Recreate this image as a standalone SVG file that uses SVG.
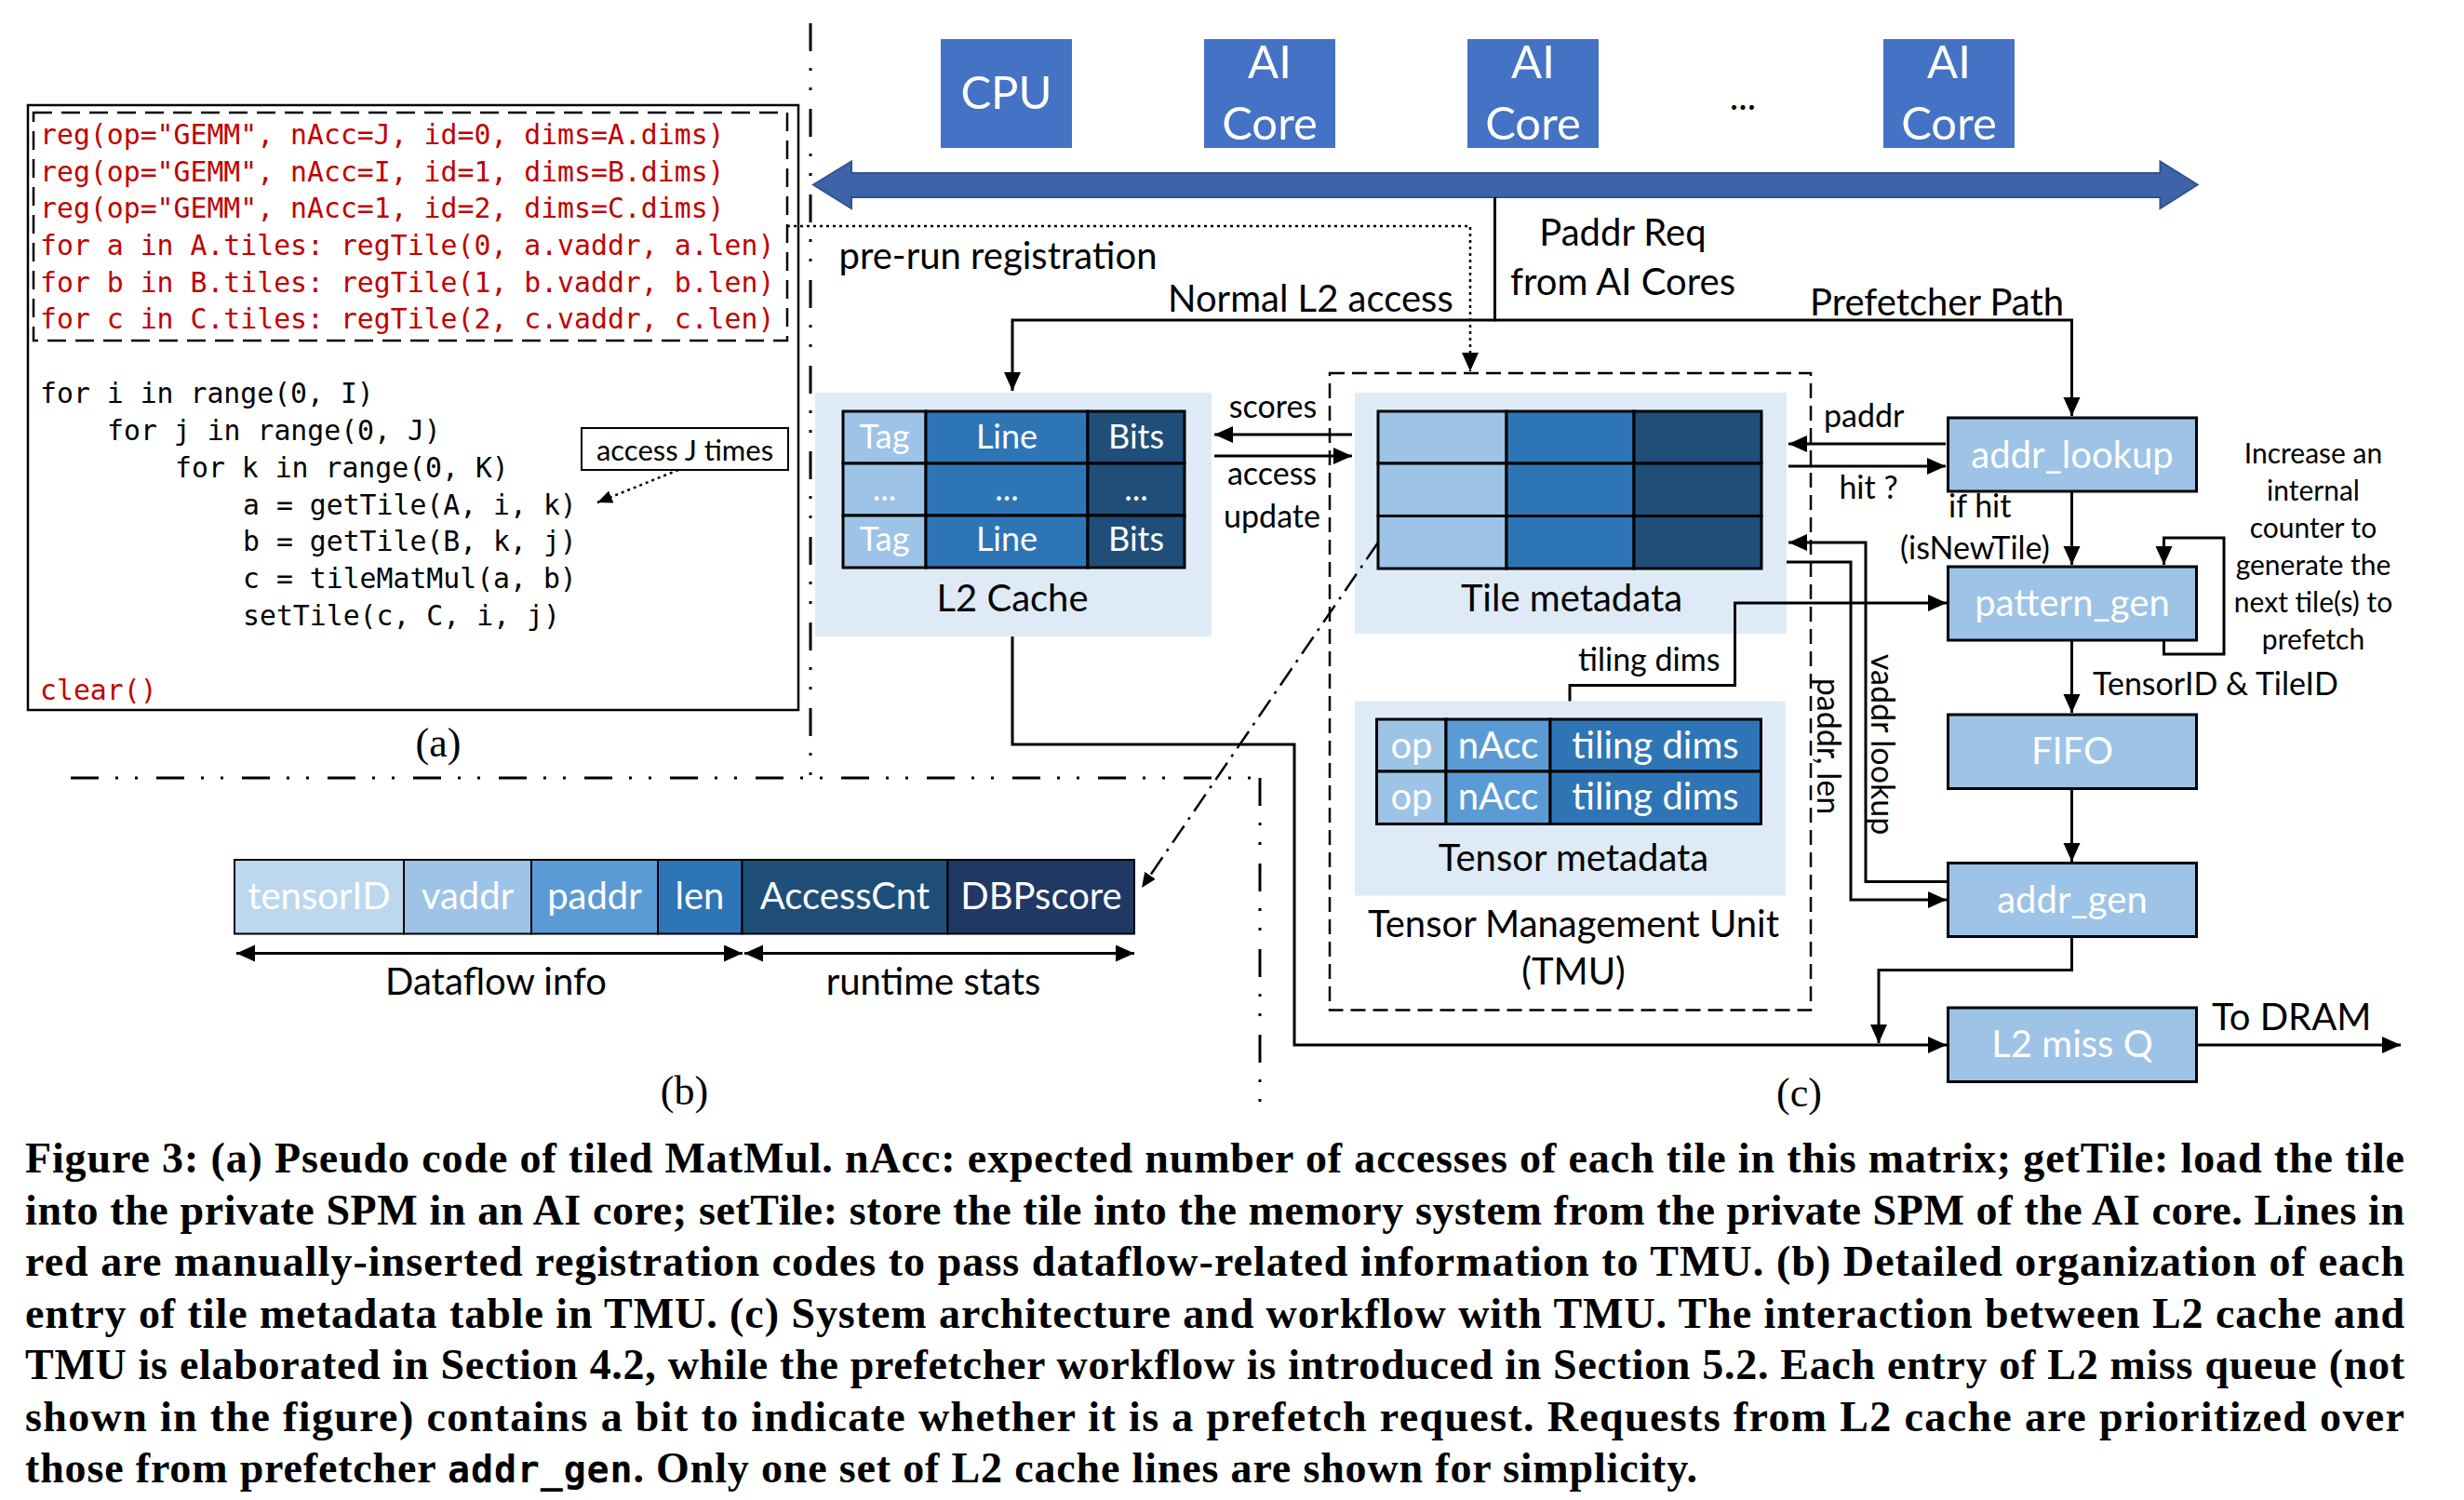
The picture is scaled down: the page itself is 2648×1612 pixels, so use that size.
<svg xmlns="http://www.w3.org/2000/svg" width="2648" height="1612" viewBox="0 0 2648 1612">
<defs>
<style>
.lbl{font-family:Lato,"Liberation Sans",sans-serif;font-size:40px;fill:#000}
.sm{font-size:34px}
.xs{font-size:30px}
.big{font-size:49px}
.wt{fill:#fff}
.mid{text-anchor:middle}
.code{font-family:"DejaVu Sans Mono","Liberation Mono",monospace;font-size:29.8px;fill:#000}
.red{fill:#C00000}
.cap{font-family:"Liberation Serif","Times New Roman",serif;font-weight:bold;font-size:46px;fill:#000}
.mono{font-family:"DejaVu Sans Mono",monospace;font-weight:bold}
.ln{fill:none;stroke:#000;stroke-width:3}
.dot{fill:none;stroke:#000;stroke-width:2.5;stroke-dasharray:3 4}
.dd{fill:none;stroke:#000;stroke-width:2.5;stroke-dasharray:22 8 3 8}
.sep{fill:none;stroke:#000;stroke-width:3;stroke-dasharray:30 18 3 18 3 20}
.panel{fill:#DEEBF7}
.cell{stroke:#000;stroke-width:3}
.box{fill:#9DC3E6;stroke:#000;stroke-width:3}
.core{fill:#4472C4}
</style>
<marker id="ah" markerUnits="userSpaceOnUse" markerWidth="22" markerHeight="20" refX="20" refY="9" orient="auto-start-reverse">
<path d="M0,0 L20,9 L0,18 z" fill="#000"/>
</marker>
<marker id="ahs" markerUnits="userSpaceOnUse" markerWidth="18" markerHeight="16" refX="16" refY="7" orient="auto">
<path d="M0,0 L16,7 L0,14 z" fill="#000"/>
</marker>
</defs>
<rect width="2648" height="1612" fill="#fff"/>

<!-- separators -->
<g id="separators">
<path class="sep" d="M871,25 V836"/>
<path class="sep" d="M76,836 H1352"/>
<path class="sep" d="M1354,836 V1190"/>
</g>

<!-- (a) code panel -->
<g id="code-panel">
<rect x="30" y="113" width="828" height="650" fill="#fff" stroke="#000" stroke-width="2.5"/>
<rect x="36" y="121" width="810" height="245" fill="none" stroke="#000" stroke-width="2.5" stroke-dasharray="20 10"/>
<text class="code red" x="43" y="155">reg(op="GEMM", nAcc=J, id=0, dims=A.dims)</text>
<text class="code red" x="43" y="195">reg(op="GEMM", nAcc=I, id=1, dims=B.dims)</text>
<text class="code red" x="43" y="234">reg(op="GEMM", nAcc=1, id=2, dims=C.dims)</text>
<text class="code red" x="43" y="274">for a in A.tiles: regTile(0, a.vaddr, a.len)</text>
<text class="code red" x="43" y="314">for b in B.tiles: regTile(1, b.vaddr, b.len)</text>
<text class="code red" x="43" y="353">for c in C.tiles: regTile(2, c.vaddr, c.len)</text>
<text class="code" x="43" y="433">for i in range(0, I)</text>
<text class="code" x="115" y="473">for j in range(0, J)</text>
<text class="code" x="188" y="513">for k in range(0, K)</text>
<text class="code" x="261" y="553">a = getTile(A, i, k)</text>
<text class="code" x="261" y="592">b = getTile(B, k, j)</text>
<text class="code" x="261" y="632">c = tileMatMul(a, b)</text>
<text class="code" x="261" y="672">setTile(c, C, i, j)</text>
<text class="code red" x="43" y="752">clear()</text>
</g>
<g id="access-note">
<rect x="625" y="460" width="222" height="45" fill="#fff" stroke="#000" stroke-width="2"/>
<text class="lbl mid" x="736" y="495" style="font-size:31px">access J times</text>
</g>
<text x="471" y="813" text-anchor="middle" font-family="Liberation Serif, serif" font-size="44">(a)</text>

<!-- top: processors and bus -->
<g id="cpu"><rect class="core" x="1011" y="42" width="141" height="117"/><text class="lbl big wt mid" x="1081.5" y="117">CPU</text></g>
<g id="ai-core-1"><rect class="core" x="1294" y="42" width="141" height="117"/><text class="lbl big wt mid" x="1364.5" y="84">AI</text><text class="lbl big wt mid" x="1364.5" y="150">Core</text></g>
<g id="ai-core-2"><rect class="core" x="1577" y="42" width="141" height="117"/><text class="lbl big wt mid" x="1647.5" y="84">AI</text><text class="lbl big wt mid" x="1647.5" y="150">Core</text></g>
<text class="lbl mid" x="1873" y="118">...</text>
<g id="ai-core-3"><rect class="core" x="2024" y="42" width="141" height="117"/><text class="lbl big wt mid" x="2094.5" y="84">AI</text><text class="lbl big wt mid" x="2094.5" y="150">Core</text></g>
<g id="bus">
<polygon points="874,198.5 915,173.5 915,186 2321.5,186 2321.5,173.5 2361.6,198.5 2321.5,224 2321.5,212 915,212 915,224" fill="#3E63A9" stroke="#2F528F" stroke-width="2"/>
</g>

<!-- L2 cache -->
<g id="l2-cache">
<rect class="panel" x="876" y="422" width="426" height="262"/>
<rect class="cell" x="906" y="442" width="89" height="56" fill="#9DC3E6"/>
<rect class="cell" x="995" y="442" width="174" height="56" fill="#2E75B6"/>
<rect class="cell" x="1169" y="442" width="104" height="56" fill="#1F4E79"/>
<rect class="cell" x="906" y="498" width="89" height="56" fill="#9DC3E6"/>
<rect class="cell" x="995" y="498" width="174" height="56" fill="#2E75B6"/>
<rect class="cell" x="1169" y="498" width="104" height="56" fill="#1F4E79"/>
<rect class="cell" x="906" y="554" width="89" height="56" fill="#9DC3E6"/>
<rect class="cell" x="995" y="554" width="174" height="56" fill="#2E75B6"/>
<rect class="cell" x="1169" y="554" width="104" height="56" fill="#1F4E79"/>
<text class="lbl wt mid" x="950.5" y="482" style="font-size:36px">Tag</text>
<text class="lbl wt mid" x="1082" y="482" style="font-size:36px">Line</text>
<text class="lbl wt mid" x="1221" y="482" style="font-size:36px">Bits</text>
<text class="lbl wt mid" x="950.5" y="538" style="font-size:36px">...</text>
<text class="lbl wt mid" x="1082" y="538" style="font-size:36px">...</text>
<text class="lbl wt mid" x="1221" y="538" style="font-size:36px">...</text>
<text class="lbl wt mid" x="950.5" y="592" style="font-size:36px">Tag</text>
<text class="lbl wt mid" x="1082" y="592" style="font-size:36px">Line</text>
<text class="lbl wt mid" x="1221" y="592" style="font-size:36px">Bits</text>
<text class="lbl mid" x="1088" y="657">L2 Cache</text>
</g>

<!-- TMU -->
<g id="tmu">
<rect x="1429" y="401" width="517" height="684.5" fill="none" stroke="#000" stroke-width="2.5" stroke-dasharray="16 8"/>
<text class="lbl mid" x="1691" y="1007">Tensor Management Unit</text>
<text class="lbl mid" x="1691" y="1058">(TMU)</text>
</g>
<g id="tile-metadata">
<rect class="panel" x="1456" y="422" width="464" height="259"/>
<rect class="cell" x="1481" y="442" width="138" height="56" fill="#9DC3E6"/>
<rect class="cell" x="1619" y="442" width="137" height="56" fill="#2E75B6"/>
<rect class="cell" x="1756" y="442" width="137" height="56" fill="#1F4E79"/>
<rect class="cell" x="1481" y="498" width="138" height="56.5" fill="#9DC3E6"/>
<rect class="cell" x="1619" y="498" width="137" height="56.5" fill="#2E75B6"/>
<rect class="cell" x="1756" y="498" width="137" height="56.5" fill="#1F4E79"/>
<rect class="cell" x="1481" y="554.5" width="138" height="56.5" fill="#9DC3E6"/>
<rect class="cell" x="1619" y="554.5" width="137" height="56.5" fill="#2E75B6"/>
<rect class="cell" x="1756" y="554.5" width="137" height="56.5" fill="#1F4E79"/>
<text class="lbl mid" x="1689" y="657">Tile metadata</text>
</g>
<g id="tensor-metadata">
<rect class="panel" x="1456" y="753.5" width="463" height="209"/>
<rect class="cell" x="1479.5" y="773" width="74.5" height="56" fill="#9DC3E6"/>
<rect class="cell" x="1554" y="773" width="112" height="56" fill="#5B9BD5"/>
<rect class="cell" x="1666" y="773" width="226.5" height="56" fill="#2E75B6"/>
<rect class="cell" x="1479.5" y="829" width="74.5" height="56.5" fill="#9DC3E6"/>
<rect class="cell" x="1554" y="829" width="112" height="56.5" fill="#5B9BD5"/>
<rect class="cell" x="1666" y="829" width="226.5" height="56.5" fill="#2E75B6"/>
<text class="lbl wt mid" x="1517" y="815">op</text>
<text class="lbl wt mid" x="1610" y="815">nAcc</text>
<text class="lbl wt mid" x="1779" y="815">tiling dims</text>
<text class="lbl wt mid" x="1517" y="870">op</text>
<text class="lbl wt mid" x="1610" y="870">nAcc</text>
<text class="lbl wt mid" x="1779" y="870">tiling dims</text>
<text class="lbl mid" x="1691" y="936">Tensor metadata</text>
</g>

<!-- prefetcher -->
<g id="addr-lookup"><rect class="box" x="2093.5" y="449" width="267" height="79"/><text class="lbl wt mid" x="2227" y="503">addr_lookup</text></g>
<g id="pattern-gen"><rect class="box" x="2093.5" y="609" width="267" height="79"/><text class="lbl wt mid" x="2227" y="662">pattern_gen</text></g>
<g id="fifo"><rect class="box" x="2093.5" y="768" width="267" height="79.5"/><text class="lbl wt mid" x="2227" y="821">FIFO</text></g>
<g id="addr-gen"><rect class="box" x="2093.5" y="927.5" width="267" height="79"/><text class="lbl wt mid" x="2227" y="981">addr_gen</text></g>
<g id="l2-miss-q"><rect class="box" x="2093.5" y="1083" width="267" height="79.5"/><text class="lbl wt mid" x="2227" y="1136">L2 miss Q</text></g>

<!-- (b) entry -->
<g id="entry">
<rect x="252" y="924" width="182" height="79.5" fill="#BDD7EE" stroke="#000" stroke-width="2"/>
<rect x="434" y="924" width="137" height="79.5" fill="#9DC3E6" stroke="#000" stroke-width="2"/>
<rect x="571" y="924" width="136" height="79.5" fill="#5B9BD5" stroke="#000" stroke-width="2"/>
<rect x="707" y="924" width="90.5" height="79.5" fill="#2E75B6" stroke="#000" stroke-width="2"/>
<rect x="797.5" y="924" width="221" height="79.5" fill="#1F4E79" stroke="#000" stroke-width="2"/>
<rect x="1018.5" y="924" width="200.5" height="79.5" fill="#203864" stroke="#000" stroke-width="2"/>
<text class="lbl wt mid" x="343" y="977">tensorID</text>
<text class="lbl wt mid" x="502.5" y="977">vaddr</text>
<text class="lbl wt mid" x="639" y="977">paddr</text>
<text class="lbl wt mid" x="752" y="977">len</text>
<text class="lbl wt mid" x="908" y="977">AccessCnt</text>
<text class="lbl wt mid" x="1119" y="977">DBPscore</text>
<text class="lbl mid" x="533" y="1069">Dataflow info</text>
<text class="lbl mid" x="1003" y="1069">runtime stats</text>
</g>
<text x="735.5" y="1187" text-anchor="middle" font-family="Liberation Serif, serif" font-size="44">(b)</text>
<text x="1933.5" y="1189" text-anchor="middle" font-family="Liberation Serif, serif" font-size="44">(c)</text>

<!-- connectors -->
<g id="connectors">
<path class="ln" d="M1606.5,212 V344 H1088 V420" marker-end="url(#ah)"/>
<path class="ln" d="M1606.5,344 H2226.5 V447" marker-end="url(#ah)"/>
<path class="dot" d="M846,243 H1580 V399" marker-end="url(#ah)"/>
<path class="ln" d="M1453,467 H1305" marker-end="url(#ah)"/>
<path class="ln" d="M1305,490 H1453" marker-end="url(#ah)"/>
<path class="ln" d="M2091,477 H1922" marker-end="url(#ah)"/>
<path class="ln" d="M1922,501 H2091" marker-end="url(#ah)"/>
<path class="ln" d="M2226.5,528 V607" marker-end="url(#ah)"/>
<path class="ln" d="M2325.5,688 V703 H2390 V578 H2325.5 V607" marker-end="url(#ah)"/>
<path class="ln" d="M2226.5,688 V766" marker-end="url(#ah)"/>
<path class="ln" d="M2226.5,847.5 V926" marker-end="url(#ah)"/>
<path class="ln" d="M2093,947.5 H2005 V583 H1922" marker-end="url(#ah)"/>
<path class="ln" d="M1920,604 H1989 V967 H2092" marker-end="url(#ah)"/>
<path class="ln" d="M1687,753.5 V736.5 H1864.5 V648 H2092" marker-end="url(#ah)"/>
<path class="ln" d="M2226.5,1006.5 V1042.5 H2019 V1121" marker-end="url(#ah)"/>
<path class="ln" d="M1088,684 V800 H1391 V1123 H2092" marker-end="url(#ah)"/>
<path class="ln" d="M2360.5,1123 H2580" marker-end="url(#ah)"/>
<path class="dot" d="M729,505 L642,540" marker-end="url(#ahs)"/>
<path class="dd" d="M1481,583 L1227,954" marker-end="url(#ahs)"/>
<path class="ln" d="M254,1024.5 H798" marker-start="url(#ah)" marker-end="url(#ah)"/>
<path class="ln" d="M800,1024.5 H1219" marker-start="url(#ah)" marker-end="url(#ah)"/>
</g>

<!-- connector labels -->
<g id="labels">
<text class="lbl" x="901.5" y="289">pre-run registration</text>
<text class="lbl" x="1255" y="335">Normal L2 access</text>
<text class="lbl mid" x="1744" y="264">Paddr Req</text>
<text class="lbl mid" x="1744" y="317">from AI Cores</text>
<text class="lbl" x="1945" y="339">Prefetcher Path</text>
<text class="lbl sm mid" x="1368" y="449">scores</text>
<text class="lbl sm mid" x="1367" y="521">access</text>
<text class="lbl sm mid" x="1367" y="567">update</text>
<text class="lbl sm" x="1960" y="459">paddr</text>
<text class="lbl sm mid" x="2008" y="536">hit ?</text>
<text class="lbl sm" x="2094" y="556">if hit</text>
<text class="lbl sm" x="2042" y="601">(isNewTile)</text>
<text class="lbl sm" x="1696" y="721">tiling dims</text>
<text class="lbl sm" x="2249" y="747">TensorID &amp; TileID</text>
<text class="lbl" x="2377" y="1107">To DRAM</text>
<text class="lbl sm mid" transform="translate(1966,802) rotate(90)" dominant-baseline="central">paddr, len</text>
<text class="lbl sm mid" transform="translate(2024,800) rotate(90)" dominant-baseline="central">vaddr lookup</text>
<text class="lbl xs mid" x="2486" y="498">Increase an</text>
<text class="lbl xs mid" x="2486" y="538">internal</text>
<text class="lbl xs mid" x="2486" y="578">counter to</text>
<text class="lbl xs mid" x="2486" y="618">generate the</text>
<text class="lbl xs mid" x="2486" y="658">next tile(s) to</text>
<text class="lbl xs mid" x="2486" y="698">prefetch</text>
</g>

<!-- caption -->
<g id="caption">
<text class="cap" x="27" y="1260" textLength="2557" lengthAdjust="spacing">Figure 3: (a) Pseudo code of tiled MatMul. nAcc: expected number of accesses of each tile in this matrix; getTile: load the tile</text>
<text class="cap" x="27" y="1315.5" textLength="2557" lengthAdjust="spacing">into the private SPM in an AI core; setTile: store the tile into the memory system from the private SPM of the AI core. Lines in</text>
<text class="cap" x="27" y="1371" textLength="2557" lengthAdjust="spacing">red are manually-inserted registration codes to pass dataflow-related information to TMU. (b) Detailed organization of each</text>
<text class="cap" x="27" y="1426.5" textLength="2557" lengthAdjust="spacing">entry of tile metadata table in TMU. (c) System architecture and workflow with TMU. The interaction between L2 cache and</text>
<text class="cap" x="27" y="1482" textLength="2557" lengthAdjust="spacing">TMU is elaborated in Section 4.2, while the prefetcher workflow is introduced in Section 5.2. Each entry of L2 miss queue (not</text>
<text class="cap" x="27" y="1537.5" textLength="2557" lengthAdjust="spacing">shown in the figure) contains a bit to indicate whether it is a prefetch request. Requests from L2 cache are prioritized over</text>
<text class="cap" x="27" y="1593" textLength="1797" lengthAdjust="spacing">those from prefetcher <tspan class="mono" font-size="40">addr_gen</tspan>. Only one set of L2 cache lines are shown for simplicity.</text>
</g>
</svg>
